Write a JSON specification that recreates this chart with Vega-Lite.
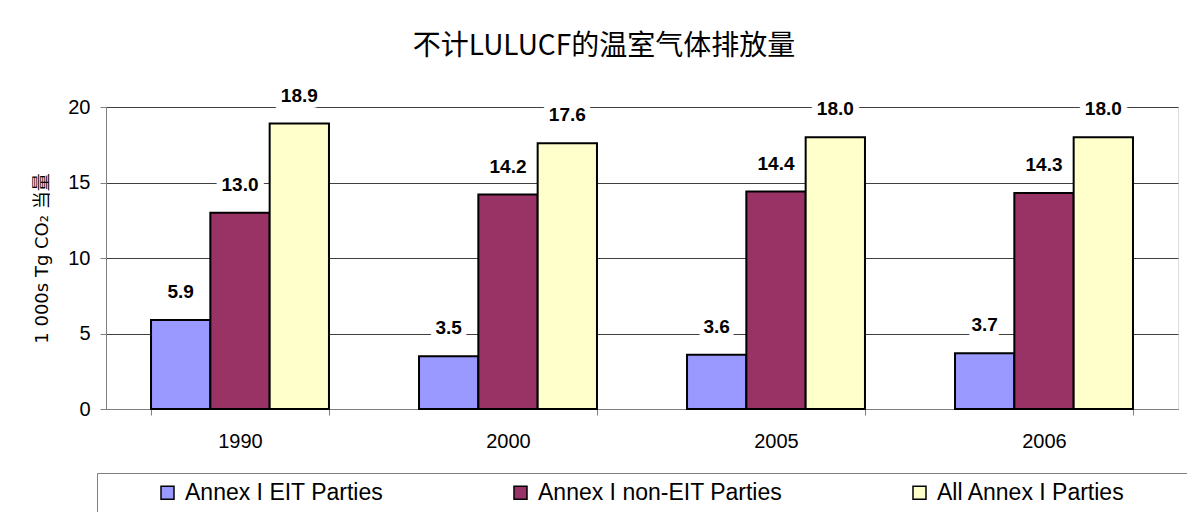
{
  "$schema": "https://vega.github.io/schema/vega-lite/v6.json",
  "autosize": {"type": "none"},
  "width": 1072,
  "height": 302,
  "padding": {"left": 106, "top": 107, "right": 9, "bottom": 103},
  "background": "white",
  "title": {"text": "不计LULUCF的温室气体排放量", "font": "Noto Sans CJK SC", "fontSize": 28, "fontWeight": "normal", "color": "black", "anchor": "middle", "frame": "group", "dx": -38, "offset": 26},
  "data": {"values": [
    {"year": "1990", "series": "Annex I EIT Parties", "value": 5.9},
    {"year": "1990", "series": "Annex I non-EIT Parties", "value": 13.0},
    {"year": "1990", "series": "All Annex I Parties", "value": 18.9},
    {"year": "2000", "series": "Annex I EIT Parties", "value": 3.5},
    {"year": "2000", "series": "Annex I non-EIT Parties", "value": 14.2},
    {"year": "2000", "series": "All Annex I Parties", "value": 17.6},
    {"year": "2005", "series": "Annex I EIT Parties", "value": 3.6},
    {"year": "2005", "series": "Annex I non-EIT Parties", "value": 14.4},
    {"year": "2005", "series": "All Annex I Parties", "value": 18.0},
    {"year": "2006", "series": "Annex I EIT Parties", "value": 3.7},
    {"year": "2006", "series": "Annex I non-EIT Parties", "value": 14.3},
    {"year": "2006", "series": "All Annex I Parties", "value": 18.0}
  ]},
  "encoding": {
    "x": {"field": "year", "type": "ordinal", "scale": {"paddingInner": 0.336, "paddingOuter": 0.168},
      "axis": {"title": null, "labelAngle": 0, "labelFont": "Liberation Sans", "labelFontSize": 20, "labelColor": "black", "labelPadding": 16,
        "domainColor": "#808080", "tickColor": "#808080", "tickBand": "extent", "tickSize": 6}},
    "xOffset": {"field": "series", "type": "nominal", "sort": ["Annex I EIT Parties", "Annex I non-EIT Parties", "All Annex I Parties"]},
    "y": {"field": "value", "type": "quantitative", "scale": {"domain": [0, 20], "nice": false},
      "axis": {"values": [0, 5, 10, 15, 20], "title": "1 000s Tg CO₂ 当量", "titleFont": "DejaVu Sans, Noto Sans CJK SC", "titleFontSize": 18, "titleFontWeight": "normal", "titleColor": "black", "titlePadding": 16,
        "labelFont": "Liberation Sans", "labelFontSize": 20, "labelColor": "black", "labelPadding": 10,
        "domainColor": "#808080", "tickColor": "#808080", "tickSize": 6, "grid": true, "gridColor": "#404040", "gridWidth": 1}}
  },
  "layer": [
    {
      "mark": {"type": "bar", "stroke": "black", "strokeWidth": 2},
      "encoding": {
        "color": {"field": "series", "type": "nominal",
          "scale": {"domain": ["Annex I EIT Parties", "Annex I non-EIT Parties", "All Annex I Parties"], "range": ["#9999FF", "#993366", "#FFFFCC"]},
          "legend": {"title": " ", "titleOrient": "right", "titlePadding": 56, "titleFontSize": 10, "orient": "none", "legendX": -9, "legendY": 366, "direction": "horizontal",
            "strokeColor": "#808080", "padding": 8, "symbolType": "square", "symbolSize": 169, "symbolStrokeColor": "black", "symbolStrokeWidth": 1.5,
            "labelFont": "Liberation Sans", "labelFontSize": 23, "labelColor": "black", "labelOffset": 6, "columnPadding": 74, "symbolOffset": 51, "labelLimit": 400}}
      }
    },
    {
      "mark": {"type": "text", "dy": -28, "baseline": "middle", "font": "Liberation Sans", "fontSize": 19, "fontWeight": "bold", "stroke": "white", "strokeWidth": 12, "fill": "white"},
      "encoding": {"text": {"field": "value", "type": "quantitative", "format": ".1f"}}
    },
    {
      "mark": {"type": "text", "dy": -28, "baseline": "middle", "font": "Liberation Sans", "fontSize": 19, "fontWeight": "bold", "color": "black"},
      "encoding": {"text": {"field": "value", "type": "quantitative", "format": ".1f"}}
    }
  ]
}
